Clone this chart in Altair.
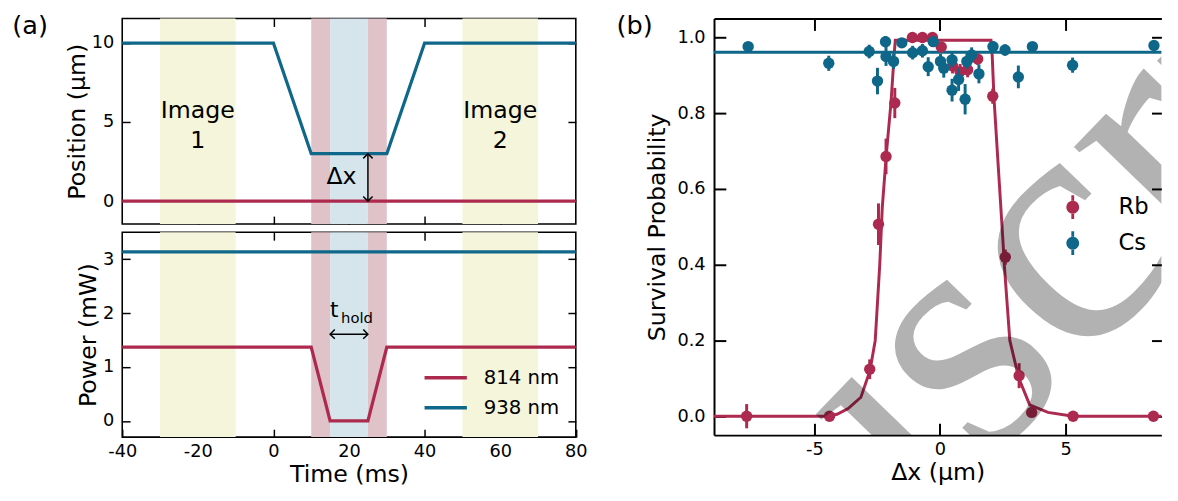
import altair as alt
import pandas as pd

FONT = "DejaVu Sans"
RED = "#ad2a4f"
BLUE = "#0f6789"

# ---------------- panel (a) data ----------------
pos938_t = [-40, 0, 10, 30, 40, 80]
pos938_v = [10, 10, 3, 3, 10, 10]
pos814_t = [-40, 80]
pos814_v = [0, 0]
pow814_t = [-40, 10, 15, 25, 30, 80]
pow814_v = [1.37, 1.37, 0, 0, 1.37, 1.37]
pow938_t = [-40, 80]
pow938_v = [3.135, 3.135]
band_t0 = [-30, 50, 10, 25, 15]
band_t1 = [-10, 70, 15, 30, 25]
band_kind = ["image", "image", "ramp", "ramp", "hold"]
band_colors = ["#f4f5da", "#e0c3c9", "#d5e5eb"]
time_ticks = [-40, -20, 0, 20, 40, 60, 80]
time_inner_ticks = [-20, 0, 20, 40, 60]
pos_ticks = [0, 5, 10]
pow_ticks = [0, 1, 2, 3]

# ---------------- panel (b) data ----------------
rb_x = [-7.7, -4.4, -2.8, -2.45, -2.15, -1.8, -1.1, -0.7, -0.3, 0.05, 0.5, 0.8, 1.1, 1.5, 2.1, 2.6, 3.15, 3.65, 5.3, 8.5]
rb_y = [0.0, 0.0, 0.124, 0.507, 0.686, 0.827, 1.0, 1.0, 1.0, 0.975, 0.925, 0.91, 0.915, 0.943, 0.845, 0.42, 0.107, 0.01, 0.0, 0.0]
rb_err = [0.032, 0.005, 0.026, 0.055, 0.047, 0.04, 0.005, 0.005, 0.005, 0.01, 0.02, 0.02, 0.02, 0.015, 0.02, 0.02, 0.033, 0.01, 0.005, 0.005]

cs_x = [-7.64, -4.43, -2.82, -2.49, -2.17, -2.15, -1.85, -1.52, -1.09, -0.70, -0.47, -0.27, 0.02, 0.15, 0.48, 0.48, 0.74, 1.0, 1.07, 1.26, 1.55, 2.11, 2.59, 3.12, 3.68, 5.28, 8.52]
cs_y = [0.976, 0.932, 0.963, 0.885, 0.989, 0.95, 0.937, 0.986, 0.96, 0.965, 0.923, 0.989, 0.937, 0.919, 0.941, 0.861, 0.889, 0.837, 0.937, 0.954, 0.904, 0.976, 0.967, 0.896, 0.976, 0.927, 0.979]
cs_err = [0.012, 0.02, 0.018, 0.035, 0.015, 0.025, 0.02, 0.012, 0.018, 0.018, 0.025, 0.012, 0.02, 0.025, 0.02, 0.03, 0.03, 0.04, 0.02, 0.02, 0.025, 0.015, 0.015, 0.03, 0.012, 0.02, 0.012]

rbfit_x = [-9.0, -4.5, -4.1, -3.66, -3.15, -2.79, -2.58, -2.4, -2.3, -2.14, -1.95, -1.82, -1.78, 2.03, 2.08, 2.15, 2.3, 2.5, 2.56, 2.78, 3.14, 3.57, 4.3, 5.3, 9.0]
rbfit_y = [0.0, 0.0, 0.005, 0.02, 0.05, 0.12, 0.2, 0.4, 0.55, 0.69, 0.83, 0.96, 0.993, 0.993, 0.95, 0.84, 0.68, 0.47, 0.4, 0.2, 0.1, 0.03, 0.01, 0.0, 0.0]
csfit_x = [-9.0, 9.0]
csfit_y = [0.961, 0.961]
dx_ticks = [-5, 0, 5]
surv_ticks = [0.0, 0.2, 0.4, 0.6, 0.8, 1.0]

# ---------------- frames ----------------
lines_pos = pd.DataFrame({
    "t": pos814_t + pos938_t,
    "v": pos814_v + pos938_v,
    "laser": ["814 nm"] * len(pos814_t) + ["938 nm"] * len(pos938_t),
})
lines_pow = pd.DataFrame({
    "t": pow814_t + pow938_t,
    "v": pow814_v + pow938_v,
    "laser": ["814 nm"] * len(pow814_t) + ["938 nm"] * len(pow938_t),
})
bands = pd.DataFrame({"t0": band_t0, "t1": band_t1, "kind": band_kind})

NEG = "datum.value < 0 ? '-' + format(-datum.value, 'd') : format(datum.value, 'd')"


def axis(orient, values, labels=True, title=None, tick=8, width=1.5, gap=8,
         title_pad=4, expr=None, fmt=None, domain=False, title_y=None):
    kw = dict(orient=orient, values=values, labels=labels, grid=False, domain=domain,
              ticks=True, tickSize={"expr": str(-tick)}, tickWidth=width, tickColor="black",
              labelFontSize=18, labelColor="black", labelFont=FONT,
              labelPadding=tick + gap, labelFlush=False, labelOverlap=False,
              titleFontSize=24, titleFont=FONT, titleFontWeight="normal",
              titleColor="black", titlePadding=title_pad, title=title, minExtent=0)
    if domain:
        kw["domainColor"] = "black"
        kw["domainWidth"] = 2
    if expr is not None:
        kw["labelExpr"] = expr
    if fmt is not None:
        kw["format"] = fmt
    if title_y is not None:
        kw["titleY"] = title_y
        kw["titleBaseline"] = "alphabetic"
    return alt.Axis(**kw)


TSCALE = alt.Scale(domain=[-40, 80], nice=False, zero=False)
PSCALE = alt.Scale(domain=[-1.45, 11.55], nice=False, zero=False)
WSCALE = alt.Scale(domain=[-0.3, 3.5], nice=False, zero=False)
LCOLOR = alt.Scale(domain=["814 nm", "938 nm"], range=[RED, BLUE])
BFILL = alt.Scale(domain=["image", "ramp", "hold"], range=band_colors)


def band_layer():
    return alt.Chart(bands).mark_rect(opacity=1).encode(
        x=alt.X("t0:Q", scale=TSCALE, axis=None),
        x2="t1:Q",
        fill=alt.Fill("kind:N", scale=BFILL, legend=None),
    )


def panel_a(df, yscale, yvals, ytitle, bottom, legend, extra):
    if bottom:
        base_x_axis = axis("bottom", time_ticks, labels=True, title="Time (ms)", gap=6,
                           expr=NEG, title_y=45.5)
    else:
        base_x_axis = axis("bottom", time_inner_ticks, labels=False, title=None)
    main = alt.Chart(df).mark_line(strokeWidth=3.3).encode(
        x=alt.X("t:Q", scale=TSCALE, axis=base_x_axis),
        y=alt.Y("v:Q", scale=yscale, axis=axis("left", yvals, title=ytitle, gap=8.5, title_pad=2)),
        color=alt.Color("laser:N", scale=LCOLOR, legend=legend),
        detail="laser:N",
    )
    mirror = alt.Chart(df).mark_point(opacity=0).encode(
        x=alt.X("t:Q", scale=TSCALE, axis=axis("top", time_inner_ticks, labels=False)),
        y=alt.Y("v:Q", scale=yscale, axis=axis("right", yvals, labels=False)),
    )
    layers = [band_layer(), main] + extra + [mirror]
    return alt.layer(*layers).resolve_axis(x="independent", y="independent")


def texts(df, yscale, align):
    return alt.Chart(df).mark_text(align=align, baseline="alphabetic", color="black", font=FONT).encode(
        x=alt.X("x:Q", scale=TSCALE, axis=None),
        y=alt.Y("y:Q", scale=yscale, axis=None),
        text="s:N",
        size=alt.Size("fs:Q", scale=None),
    )


def arrow(df_line, df_heads, yscale):
    r = alt.Chart(df_line).mark_rule(color="black", strokeWidth=1.5).encode(
        x=alt.X("x:Q", scale=TSCALE, axis=None), x2="x2:Q",
        y=alt.Y("y:Q", scale=yscale, axis=None), y2="y2:Q",
    )
    h = alt.Chart(df_heads).mark_point(shape="M -1 1 L 0 0 L 1 1", filled=False, size=90,
                                       strokeWidth=1.5, color="black", opacity=1).encode(
        x=alt.X("x:Q", scale=TSCALE, axis=None),
        y=alt.Y("y:Q", scale=yscale, axis=None),
        angle=alt.Angle("a:Q", scale=None),
    )
    return [r, h]


top_text = pd.DataFrame({"x": [-20, -20, 60, 60, 18], "y": [5.23, 3.37, 5.23, 3.37, 1.1],
                         "s": ["Image", "1", "Image", "2", "Δx"], "fs": [24, 24, 24, 24, 24]})
top_arrow = pd.DataFrame({"x": [25], "x2": [25], "y": [0], "y2": [3]})
top_heads = pd.DataFrame({"x": [25, 25], "y": [3, 0], "a": [0, 180]})

bot_text = pd.DataFrame({"x": [15.0, 17.9], "y": [1.92, 1.81], "s": ["t", "hold"], "fs": [22, 15]})
bot_arrow = pd.DataFrame({"x": [15], "x2": [25], "y": [1.61], "y2": [1.61]})
bot_heads = pd.DataFrame({"x": [15, 25], "y": [1.61, 1.61], "a": [270, 90]})

top = panel_a(lines_pos, PSCALE, pos_ticks, "Position (μm)", False, None,
              [texts(top_text, PSCALE, "center")] + arrow(top_arrow, top_heads, PSCALE)).properties(
    width=460.6, height=208.6,
    title=alt.TitleParams("(a)", anchor="start", frame="group", orient="top", dx=-111.7, offset=-21.6,
                          baseline="top", fontSize=26, font=FONT, fontWeight="normal", color="black"))

legend_a = alt.Legend(orient="none", legendX=316, legendY=135.3, title=None,
                      symbolType="M -2 0 L 2 0", symbolSize=462, symbolStrokeWidth=3.5,
                      labelFontSize=20, labelFont=FONT, labelColor="black", labelOffset=26,
                      rowPadding=7.4, padding=0)
bottom = panel_a(lines_pow, WSCALE, pow_ticks, "Power (mW)", True, legend_a,
                 [texts(bot_text, WSCALE, "left")] + arrow(bot_arrow, bot_heads, WSCALE)).properties(
    width=460.6, height=208)

a_block = alt.vconcat(top, bottom, spacing=8, bounds="flush").resolve_scale(
    color="independent", fill="independent")

# ---------------- panel (b) ----------------
XS = alt.Scale(domain=[-9.0, 8.816], nice=False, zero=False)
YS = alt.Scale(domain=[-0.05, 1.05], nice=False, zero=False)
SP = alt.Scale(domain=["Rb", "Cs"], range=[RED, BLUE])

rb = pd.DataFrame({"x": rb_x, "y": rb_y, "e": rb_err, "sp": "Rb"})
cs = pd.DataFrame({"x": cs_x, "y": cs_y, "e": cs_err, "sp": "Cs"})
rbfit = pd.DataFrame({"x": rbfit_x, "y": rbfit_y})
csfit = pd.DataFrame({"x": csfit_x, "y": csfit_y})
wm = pd.DataFrame({"x": [1.2], "y": [-0.174], "s": ["Manuscript"]})


def fit(df, col):
    return alt.Chart(df).mark_line(color=col, strokeWidth=3, clip=True).encode(
        x=alt.X("x:Q", scale=XS, axis=None), y=alt.Y("y:Q", scale=YS, axis=None))


def bars(df, col):
    return alt.Chart(df).transform_calculate(lo="datum.y - datum.e", hi="datum.y + datum.e").mark_rule(
        color=col, strokeWidth=3).encode(
        x=alt.X("x:Q", scale=XS, axis=None), y=alt.Y("lo:Q", scale=YS, axis=None), y2="hi:Q")


legend_b = alt.Legend(orient="none", legendX=352.8, legendY=180, title=None,
                      symbolType="M -0.22 -1.85 L 0.22 -1.85 L 0.22 -0.95 L -0.22 -0.95 Z "
                                 "M -0.22 0.95 L 0.22 0.95 L 0.22 1.85 L -0.22 1.85 Z "
                                 "M -1 0 A 1 1 0 1 0 1 0 A 1 1 0 1 0 -1 0 Z",
                      symbolSize=169, symbolStrokeWidth=0, symbolOpacity=1,
                      labelFontSize=23, labelFont=FONT, labelColor="black", labelOffset=35,
                      rowPadding=11.6, padding=0)


def pts(df):
    return alt.Chart(df).mark_circle(size=133, opacity=1).encode(
        x=alt.X("x:Q", scale=XS, axis=None), y=alt.Y("y:Q", scale=YS, axis=None),
        color=alt.Color("sp:N", scale=SP, legend=legend_b))


b_axes = alt.Chart(csfit).mark_point(opacity=0).encode(
    x=alt.X("x:Q", scale=XS, axis=axis("bottom", dx_ticks, title="Δx (μm)", tick=12, width=2, gap=6,
                                         expr=NEG, domain=True, title_y=45.5)),
    y=alt.Y("y:Q", scale=YS, axis=axis("left", surv_ticks, title="Survival Probability", tick=12, width=2,
                                         gap=9, fmt=".1f", title_pad=8, domain=True)),
)
b_mirror = alt.Chart(csfit).mark_point(opacity=0).encode(
    x=alt.X("x:Q", scale=XS, axis=axis("top", dx_ticks, labels=False, tick=12, width=2, domain=True)),
    y=alt.Y("y:Q", scale=YS, axis=axis("right", surv_ticks, labels=False, tick=10, width=2)),
)
watermark = alt.Chart(wm).mark_text(angle=314, fontSize=350, font="Liberation Serif", color="black",
                                    opacity=0.3, align="center", baseline="alphabetic", clip=True).encode(
    x=alt.X("x:Q", scale=XS, axis=None), y=alt.Y("y:Q", scale=YS, axis=None), text="s:N")

b = alt.layer(
    b_axes, fit(rbfit, RED), fit(csfit, BLUE),
    bars(rb, RED), pts(rb), bars(cs, BLUE), pts(cs),
    watermark, b_mirror,
).resolve_axis(x="independent", y="independent").properties(
    width=454.3, height=423,
    view=alt.ViewBackground(stroke="transparent"),
    title=alt.TitleParams("(b)", anchor="start", frame="group", orient="top", dx=-99, offset=-21.6,
                          baseline="top", fontSize=26, font=FONT, fontWeight="normal", color="black"))

chart = alt.hconcat(a_block, b, spacing=27.95).resolve_scale(
    color="independent", fill="independent").properties(
    padding={"left": 3, "top": 0, "right": 0, "bottom": 0}
).configure(font=FONT).configure_view(stroke="black", strokeWidth=1.6)

chart.save("out.html", embed_options={"renderer": "svg", "actions": False})
